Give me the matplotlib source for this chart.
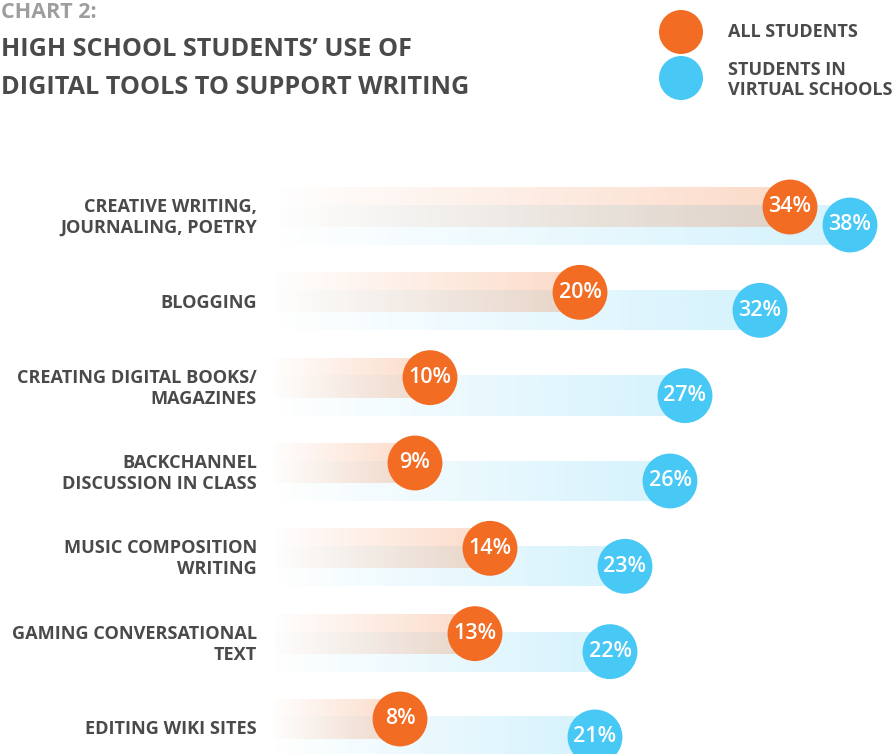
import numpy as np
import matplotlib
matplotlib.use("Agg")
import matplotlib.pyplot as plt

plt.rcParams['font.family'] = ['Open Sans', 'DejaVu Sans']

categories = [
    "CREATIVE WRITING,\nJOURNALING, POETRY",
    "BLOGGING",
    "CREATING DIGITAL BOOKS/\nMAGAZINES",
    "BACKCHANNEL\nDISCUSSION IN CLASS",
    "MUSIC COMPOSITION\nWRITING",
    "GAMING CONVERSATIONAL\nTEXT",
    "EDITING WIKI SITES",
]
all_students = [34, 20, 10, 9, 14, 13, 8]
virtual_students = [38, 32, 27, 26, 23, 22, 21]
series_names = ["ALL STUDENTS", "STUDENTS IN\nVIRTUAL SCHOOLS"]

ORANGE = "#F26C23"
BLUE = "#47C8F5"
TEXT = "#4A4A4C"

W, H = 894, 754
fig = plt.figure(figsize=(W / 100, H / 100), dpi=100)
ax = fig.add_axes([0, 0, 1, 1])

# scale: pixel x = 280 + 15 * value ; rows every 85.33 px starting at 207
px_per_val = 15.0
x0_px = 280.0
row_px = 85.33
row0_px = 207.0
ax.set_xlim(-x0_px / px_per_val, (W - x0_px) / px_per_val)
ax.set_ylim((H - row0_px) / row_px, -row0_px / row_px)
ax.axis('off')

bar_start = -10 / px_per_val
half_h = 20 / row_px
blue_off = 18 / row_px


def gradient(color, amax):
    rgb = matplotlib.colors.to_rgb(color)
    n = 256
    img = np.zeros((1, n, 4))
    img[..., 0], img[..., 1], img[..., 2] = rgb
    img[..., 3] = np.linspace(0, amax, n)
    return img


for i, (a, v) in enumerate(zip(all_students, virtual_students)):
    yb = i + blue_off
    ax.imshow(gradient(BLUE, 0.23), extent=[bar_start, v, yb + half_h, yb - half_h],
              aspect='auto', interpolation='bilinear', zorder=1)
for i, (a, v) in enumerate(zip(all_students, virtual_students)):
    ax.imshow(gradient(ORANGE, 0.25), extent=[bar_start, a, i + half_h, i - half_h],
              aspect='auto', interpolation='bilinear', zorder=2)

ys = np.arange(len(categories))
ax.scatter(all_students, ys, s=1560, color=ORANGE, edgecolors='none', zorder=3)
ax.scatter(virtual_students, ys + blue_off, s=1560, color=BLUE, edgecolors='none', zorder=4)

for i, (a, v) in enumerate(zip(all_students, virtual_students)):
    ax.text(a, i, f"{a}%", color='white', fontsize=15.5, fontweight='semibold',
            ha='center', va='center', zorder=3.5)
    ax.text(v, i + blue_off, f"{v}%", color='white', fontsize=15.5, fontweight='semibold',
            ha='center', va='center', zorder=4.5)
    ax.text(bar_start - 13 / px_per_val, i + blue_off / 2 + 1.5 / row_px, categories[i],
            color=TEXT, fontsize=13.1, fontweight='bold', ha='right', va='center',
            linespacing=1.2, zorder=5)

ax.set_xlim(-x0_px / px_per_val, (W - x0_px) / px_per_val)
ax.set_ylim((H - row0_px) / row_px, -row0_px / row_px)


def fx(px):
    return px / W


def fy(py):
    return 1 - py / H


fig.text(fx(1), fy(12), "CHART 2:", color="#9E9E9E", fontsize=15.5, fontweight='bold',
         ha='left', va='center')
fig.text(fx(1), fy(49), "HIGH SCHOOL STUDENTS\u2019 USE OF", color=TEXT, fontsize=18.2,
         fontweight='bold', ha='left', va='center')
fig.text(fx(1), fy(88), "DIGITAL TOOLS TO SUPPORT WRITING", color=TEXT, fontsize=18.2,
         fontweight='bold', ha='left', va='center')

# legend
lax = fig.add_axes([0, 0, 1, 1], facecolor='none')
lax.set_xlim(0, W)
lax.set_ylim(H, 0)
lax.axis('off')
lax.scatter([681, 681], [32, 78], s=1004, color=[ORANGE, BLUE], edgecolors='none')
lax.text(728, 32, series_names[0], color=TEXT, fontsize=13, fontweight='bold',
         ha='left', va='center')
lax.text(728, 80, series_names[1], color=TEXT, fontsize=13, fontweight='bold',
         ha='left', va='center', linespacing=1.15)

fig.savefig("out.png", dpi=100)
